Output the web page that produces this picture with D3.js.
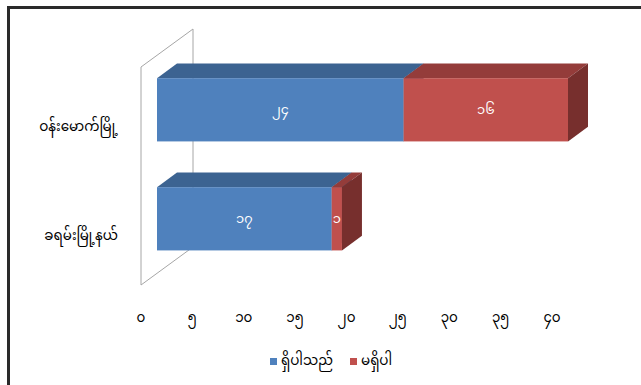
<!DOCTYPE html>
<html><head><meta charset="utf-8">
<script src="https://cdn.jsdelivr.net/npm/d3@7"></script>
<style>
html,body{margin:0;padding:0;background:#fff;}
svg{display:block;}
text{font-family:"Noto Sans Myanmar","Padauk","Myanmar Text","Noto Sans",sans-serif;}
</style></head>
<body>
<svg id="c" width="641" height="385"></svg>
<script>
const categories = ["ဝန်းမောက်မြို့", "ခရမ်းမြို့နယ်"];
const seriesNames = ["ရှိပါသည်", "မရှိပါ"];
const haveValues = [24, 17];
const notHaveValues = [16, 1];
const tickValues = [0, 5, 10, 15, 20, 25, 30, 35, 40];

const colors = [
  {front:"#4F81BD", top:"#3C6391", side:"#34567f"},
  {front:"#C0504D", top:"#943C3A", side:"#772F2D"}
];
const mmDigits = "၀၁၂၃၄၅၆၇၈၉";
const mm = n => String(n).replace(/[0-9]/g, d => mmDigits[+d]);

const svg = d3.select("#c");

// frame lines
svg.append("line").attr("x1",7).attr("x2",641).attr("y1",7.5).attr("y2",7.5).attr("stroke","#2a2a2a").attr("stroke-width",3);
svg.append("line").attr("x1",8.5).attr("x2",8.5).attr("y1",6).attr("y2",385).attr("stroke","#2a2a2a").attr("stroke-width",3);

const x0 = 141, yTop = 67, yBot = 285;
const depth = {dx:52, dy:-38};
const x = d3.scaleLinear().domain([0,40]).range([0, 411]);
const y = d3.scaleBand().domain(categories).range([yTop, yBot]);
const barH = y.bandwidth()*0.58;
const dFront = 16/52, dBack = 36/52;

// left wall
const wall = [[x0,yTop],[x0+depth.dx,yTop+depth.dy],[x0+depth.dx,yBot+depth.dy],[x0,yBot]];
svg.append("path").attr("d","M"+wall.map(p=>p.join(",")).join("L")+"Z")
  .attr("fill","none").attr("stroke","#a6a6a6").attr("stroke-width",1);

const series = [haveValues, notHaveValues];
const g = svg.append("g");
categories.forEach((c,i)=>{
  let cum = 0;
  const fy = y(c) + (y.bandwidth()-barH)/2 + depth.dy*dFront;
  const ox = x0 + depth.dx*dFront;
  const ddx = depth.dx*(dBack-dFront), ddy = depth.dy*(dBack-dFront);
  series.forEach((vals,s)=>{
    const v = vals[i];
    const xa = ox + x(cum), xb = ox + x(cum+v);
    cum += v;
    const col = colors[s];
    g.append("path").attr("d",`M${xa},${fy}L${xa+ddx},${fy+ddy}L${xb+ddx},${fy+ddy}L${xb},${fy}Z`).attr("fill",col.top);
    g.append("path").attr("d",`M${xb},${fy}L${xb+ddx},${fy+ddy}L${xb+ddx},${fy+ddy+barH}L${xb},${fy+barH}Z`).attr("fill",col.side);
    g.append("rect").attr("x",xa).attr("y",fy).attr("width",xb-xa).attr("height",barH).attr("fill",col.front);
    g.append("text").attr("x",(xa+xb)/2).attr("y",fy+barH/2+1).attr("text-anchor","middle")
      .attr("dominant-baseline","middle").attr("fill","#fff").attr("font-size",13).text(mm(v));
  });
  svg.append("text").attr("x",118).attr("y",y(c)+y.bandwidth()/2+6).attr("text-anchor","end")
    .attr("dominant-baseline","middle").attr("font-size",13.5).attr("fill","#000").text(c);
});

// x tick labels
svg.selectAll(".tick").data(tickValues).enter().append("text")
  .attr("x",d=>x0+x(d)).attr("y",318).attr("text-anchor","middle").attr("dominant-baseline","middle")
  .attr("font-size",13.5).attr("fill","#000").text(d=>mm(d));

// legend
const leg = [{x:270, name:seriesNames[0], c:colors[0].front},{x:350, name:seriesNames[1], c:colors[1].front}];
leg.forEach(l=>{
  svg.append("rect").attr("x",l.x).attr("y",358).attr("width",7).attr("height",7).attr("fill",l.c);
  svg.append("text").attr("x",l.x+11).attr("y",361).attr("dominant-baseline","middle").attr("font-size",13.5).attr("fill","#000").text(l.name);
});
</script>
</body></html>
